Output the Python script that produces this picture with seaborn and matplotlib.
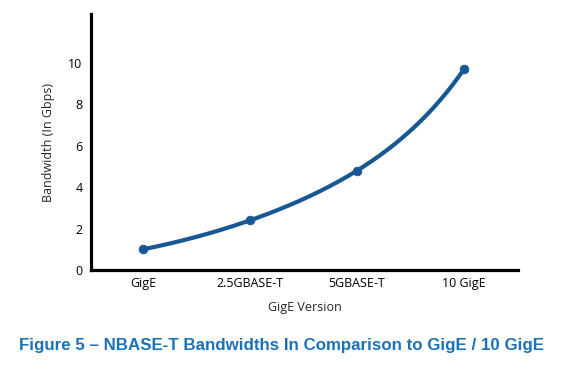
import numpy as np
import pandas as pd
import matplotlib
matplotlib.use('Agg')
import matplotlib.pyplot as plt
import seaborn as sns

# dados
versions = ['GigE', '2.5GBASE-T', '5GBASE-T', '10 GigE']
bandwidth = [1.0, 2.4, 4.8, 9.7]
yticks = [0, 2, 4, 6, 8, 10]

line_color = '#175794'
title_color = '#1b72b8'

sns.set_style('white')
plt.rcParams['font.family'] = ['Open Sans', 'DejaVu Sans']

fig = plt.figure(figsize=(5.63, 3.74), dpi=100)
ax = fig.add_axes([0.1616, 0.278, 0.7584, 0.6846])

df = pd.DataFrame({'pos': np.arange(len(versions)), 'bw': bandwidth})

# curva suave passando pelos pontos (ajuste em escala log, so para desenhar a linha)
coef = np.polyfit(df['pos'], np.log(df['bw']), 3)
xs = np.linspace(df['pos'].min(), df['pos'].max(), 200)
curve = pd.DataFrame({'pos': xs, 'bw': np.exp(np.polyval(coef, xs))})

sns.lineplot(data=curve, x='pos', y='bw', color=line_color, linewidth=3, ax=ax)
sns.scatterplot(data=df, x='pos', y='bw', color=line_color, s=40, edgecolor=line_color, zorder=3, ax=ax)

ax.set_xlim(-0.486, 3.505)
ax.set_ylim(0, 12.37)
ax.set_xticks(df['pos'])
ax.set_xticklabels(versions)
ax.set_yticks(yticks)
ax.tick_params(axis='both', length=0, labelsize=9, colors='black')
ax.tick_params(axis='y', pad=6)
ax.tick_params(axis='x', pad=5)

for s in ['top', 'right']:
    ax.spines[s].set_visible(False)
for s in ['left', 'bottom']:
    ax.spines[s].set_linewidth(2.3)
    ax.spines[s].set_color('black')

ax.set_xlabel('GigE Version', fontsize=9, labelpad=8)
ax.set_ylabel('Bandwidth (In Gbps)', fontsize=9, labelpad=10)

fig.text(0.5, 0.0775, 'Figure 5 \u2013 NBASE-T Bandwidths In Comparison to GigE / 10 GigE',
         ha='center', va='center', fontsize=12.2, fontweight='bold',
         color=title_color, family=['Liberation Sans', 'DejaVu Sans'])

fig.savefig('out.png', dpi=100)
